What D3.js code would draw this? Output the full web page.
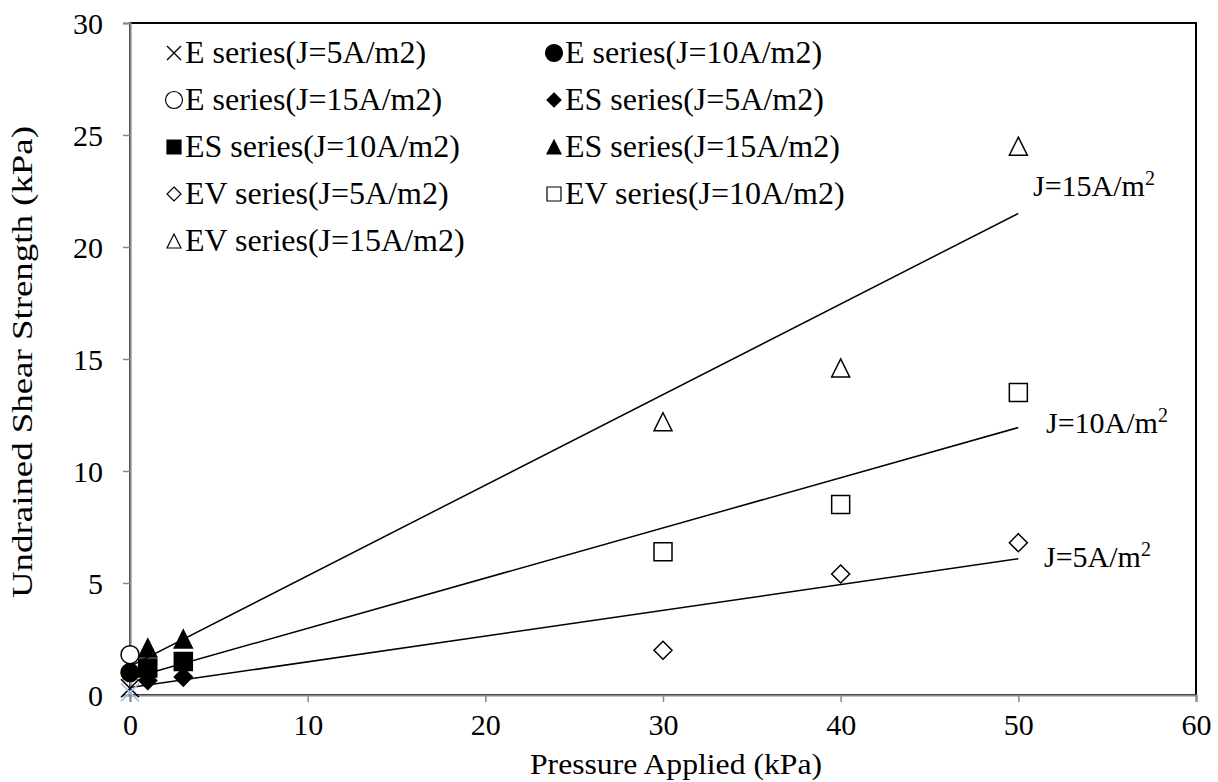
<!DOCTYPE html>
<html>
<head>
<meta charset="utf-8">
<script src="https://cdn.jsdelivr.net/npm/d3@7"></script>
<style>
  body { margin: 0; background: #fff; }
  svg text { font-family: "Liberation Serif", "Times New Roman", serif; fill: #000; }
</style>
</head>
<body>
<div id="chart"></div>
<script>
// values
var eX = [0];
var eJ5 = [0.3], eJ10 = [1.0], eJ15 = [1.8];
var esX = [1, 3];
var esJ5 = [0.65, 0.8], esJ10 = [1.2, 1.5], esJ15 = [2.1, 2.5];
var evX = [30, 40, 50];
var evJ5 = [2.0, 5.4, 6.8], evJ10 = [6.4, 8.5, 13.5], evJ15 = [12.2, 14.6, 24.5];
var stray = [0.12];          // pale blue x under the origin, no legend entry

// fitted lines (end points at 0 and 50 kPa)
var fitX = [0, 50];
var fit5 = [0.33, 6.08], fit10 = [0.74, 11.94], fit15 = [1.28, 21.5];
var fitLabels = ["J=5A/m", "J=10A/m", "J=15A/m"];

var xTicks = [0, 10, 20, 30, 40, 50, 60];
var yTicks = [0, 5, 10, 15, 20, 25, 30];

var W = 1218, H = 782;
var pLeft = 130, pRight = 1196, pTop = 23, pBottom = 695;

var svg = d3.select("#chart").append("svg")
  .attr("width", W).attr("height", H);

var x = d3.scaleLinear().domain([0, 60]).range([pLeft, pRight]);
var y = d3.scaleLinear().domain([0, 30]).range([pBottom, pTop]);

// plot area frame
svg.append("rect")
  .attr("x", pLeft).attr("y", pTop)
  .attr("width", pRight - pLeft).attr("height", pBottom - pTop)
  .attr("fill", "none").attr("stroke", "#000").attr("stroke-width", 2);

// axes
var xAxis = svg.append("g").attr("transform", "translate(0," + pBottom + ")")
  .call(d3.axisBottom(x).tickValues(xTicks).tickSize(7).tickPadding(12));
var yAxis = svg.append("g").attr("transform", "translate(" + pLeft + ",0)")
  .call(d3.axisLeft(y).tickValues(yTicks).tickSize(7).tickPadding(20));
[xAxis, yAxis].forEach(function(a) {
  a.select(".domain").attr("stroke", "#898989").attr("stroke-width", 2.2);
  a.selectAll(".tick line").attr("stroke", "#898989").attr("stroke-width", 1.5);
  a.selectAll("text").style("font-family", "Liberation Serif").style("font-size", "30px").attr("fill", "#000");
});
yAxis.selectAll("text").attr("dy", "0.34em");

// axis titles
svg.append("text")
  .attr("x", 676).attr("y", 774)
  .attr("text-anchor", "middle")
  .attr("textLength", 292).attr("lengthAdjust", "spacingAndGlyphs")
  .style("font-size", "30px")
  .text("Pressure Applied (kPa)");
svg.append("text")
  .attr("transform", "translate(32,362) rotate(-90)")
  .attr("text-anchor", "middle")
  .attr("textLength", 472).attr("lengthAdjust", "spacingAndGlyphs")
  .style("font-size", "30px")
  .text("Undrained Shear Strength (kPa)");

// trend lines
var fits = [fit5, fit10, fit15];
fits.forEach(function(f) {
  svg.append("path")
    .datum(fitX.map(function(v, i) { return [v, f[i]]; }))
    .attr("fill", "none").attr("stroke", "#000").attr("stroke-width", 1.5)
    .attr("d", d3.line().x(function(d) { return x(d[0]); }).y(function(d) { return y(d[1]); }));
});

// marker shapes, s = full width
function shape(kind, s) {
  var h = s / 2;
  if (kind === "circle") return d3.symbol().type(d3.symbolCircle).size(Math.PI * h * h)();
  if (kind === "square") return "M" + (-h) + "," + (-h) + "H" + h + "V" + h + "H" + (-h) + "Z";
  if (kind === "diamond") return "M0," + (-h) + "L" + h + ",0L0," + h + "L" + (-h) + ",0Z";
  if (kind === "triangle") return "M0," + (-h) + "L" + h + "," + h + "L" + (-h) + "," + h + "Z";
  if (kind === "x") return "M" + (-h) + "," + (-h) + "L" + h + "," + h + "M" + h + "," + (-h) + "L" + (-h) + "," + h;
}

var series = [
  { name: "E series(J=5A/m2)", xs: eX, ys: eJ5, kind: "x", fill: "none" },
  { name: "E series(J=10A/m2)", xs: eX, ys: eJ10, kind: "circle", fill: "#000" },
  { name: "E series(J=15A/m2)", xs: eX, ys: eJ15, kind: "circle", fill: "#fff" },
  { name: "ES series(J=5A/m2)", xs: esX, ys: esJ5, kind: "diamond", fill: "#000" },
  { name: "ES series(J=10A/m2)", xs: esX, ys: esJ10, kind: "square", fill: "#000" },
  { name: "ES series(J=15A/m2)", xs: esX, ys: esJ15, kind: "triangle", fill: "#000" },
  { name: "EV series(J=5A/m2)", xs: evX, ys: evJ5, kind: "diamond", fill: "#fff" },
  { name: "EV series(J=10A/m2)", xs: evX, ys: evJ10, kind: "square", fill: "#fff" },
  { name: "EV series(J=15A/m2)", xs: evX, ys: evJ15, kind: "triangle", fill: "#fff" }
];

function drawPoints(g, s, size, color) {
  g.selectAll(null)
    .data(s.xs.map(function(v, i) { return [v, s.ys[i]]; }))
    .enter().append("path")
    .attr("transform", function(d) { return "translate(" + x(d[0]) + "," + y(d[1]) + ")"; })
    .attr("d", shape(s.kind, size))
    .attr("fill", s.fill)
    .attr("stroke", color || "#000")
    .attr("stroke-width", s.kind === "x" ? 1.6 : 1.5);
}

var pts = svg.append("g");
series.forEach(function(s) { drawPoints(pts, s, 18); });
drawPoints(pts, { xs: eX, ys: stray, kind: "x", fill: "none" }, 18, "#9dc3e6");

// legend
var legX = [174, 554], legY0 = 53, legDy = 47;
var leg = svg.append("g");
series.forEach(function(s, i) {
  var cx = legX[i % 2], cy = legY0 + Math.floor(i / 2) * legDy;
  leg.append("path")
    .attr("transform", "translate(" + cx + "," + cy + ")")
    .attr("d", shape(s.kind, s.kind === "circle" ? 17 : 14))
    .attr("fill", s.fill).attr("stroke", "#000").attr("stroke-width", s.kind === "x" ? 1.4 : 1.2);
  leg.append("text")
    .attr("x", cx + 11).attr("y", cy + 10)
    .style("font-size", "32px")
    .text(s.name);
});

// labels at the right end of the lines
var labPos = [[1044, 567], [1046, 433], [1033, 196]];
fitLabels.forEach(function(t, i) {
  var tx = svg.append("text")
    .attr("x", labPos[i][0]).attr("y", labPos[i][1])
    .style("font-size", "30px")
    .text(t);
  tx.append("tspan").attr("dy", -11).style("font-size", "20px").text("2");
});
</script>
</body>
</html>
